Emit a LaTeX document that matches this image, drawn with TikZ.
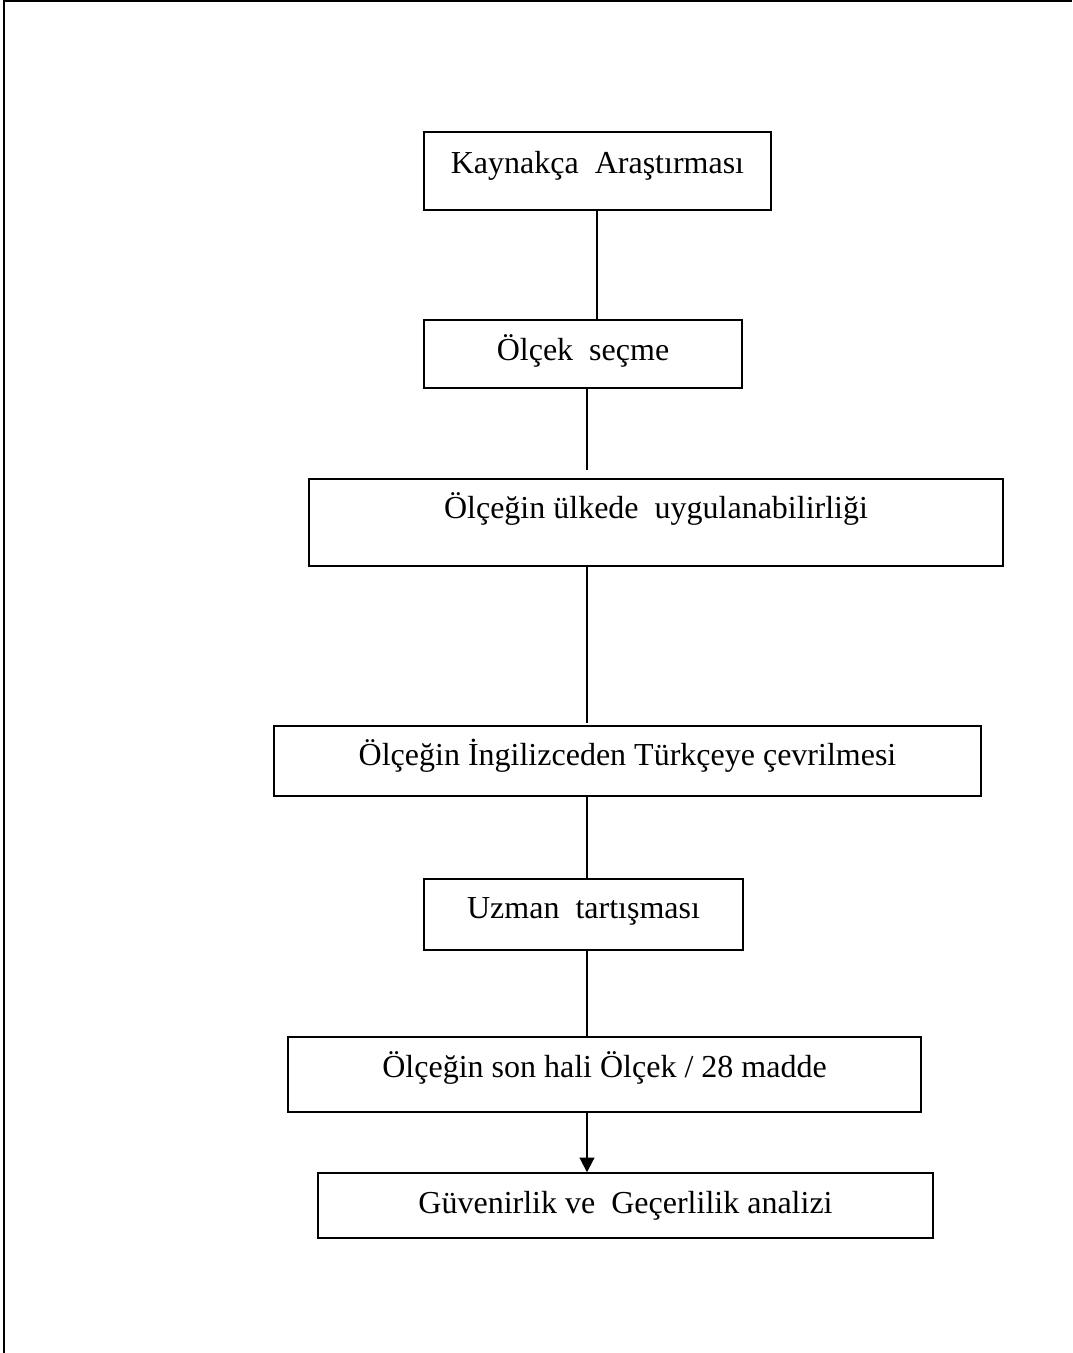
\documentclass[tikz,border=0pt]{standalone}
\usepackage{fontspec}
\setmainfont{Liberation Serif}
\usetikzlibrary{arrows.meta}
\begin{document}
\begin{tikzpicture}[x=0.75pt,y=-0.75pt,
  stepbox/.style={draw=black, line width=1.1pt, rectangle, inner sep=0pt, align=center,
    font=\fontsize{24pt}{28pt}\selectfont},
  link/.style={draw=black, line width=1.1pt},
  arrowlink/.style={draw=black, line width=1.5pt, -{Triangle[width=11pt,length=11pt]}}]
\useasboundingbox (0,0) rectangle (1072,1353);
\draw[line width=1.5pt] (4,1353) -- (4,1) -- (1072,1);
% boxes: centre, width, text height (above baseline), text depth (below baseline)
\node[stepbox, minimum width=347*0.75pt, text height=41*0.75pt, text depth=37*0.75pt] (b1) at (597.5,171) {Kaynakça~ Araştırması};
\node[stepbox, minimum width=318*0.75pt, text height=40*0.75pt, text depth=28*0.75pt] (b2) at (583,354) {Ölçek~ seçme};
\node[stepbox, minimum width=694*0.75pt, text height=39*0.75pt, text depth=48*0.75pt] (b3) at (656,522.5) {Ölçeğin ülkede~ uygulanabilirliği};
\node[stepbox, minimum width=707*0.75pt, text height=39*0.75pt, text depth=31*0.75pt] (b4) at (627.5,761) {Ölçeğin İngilizceden Türkçeye çevrilmesi};
\node[stepbox, minimum width=319*0.75pt, text height=39*0.75pt, text depth=32*0.75pt] (b5) at (583.5,914.5) {Uzman~ tartışması};
\node[stepbox, minimum width=633*0.75pt, text height=40*0.75pt, text depth=35*0.75pt] (b6) at (604.5,1074.5) {Ölçeğin son hali Ölçek / 28 madde};
\node[stepbox, minimum width=615*0.75pt, text height=40*0.75pt, text depth=25*0.75pt] (b7) at (625.5,1205.5) {Güvenirlik ve~ Geçerlilik analizi};
% axis and free ends
\coordinate (ax) at (587,0);
\coordinate (ax1) at (597,0);
\coordinate (t2) at (587,470);
\coordinate (t3) at (587,723);
% connectors
\draw[link] (ax1 |- b1.south) -- (ax1 |- b2.north);
\draw[link] (t2 |- b2.south) -- (t2);
\draw[link] (t3 |- b3.south) -- (t3);
\draw[link] (ax |- b4.south) -- (ax |- b5.north);
\draw[link] (ax |- b5.south) -- (ax |- b6.north);
\draw[arrowlink] (ax |- b6.south) -- (ax |- b7.north);
\end{tikzpicture}
\end{document}
